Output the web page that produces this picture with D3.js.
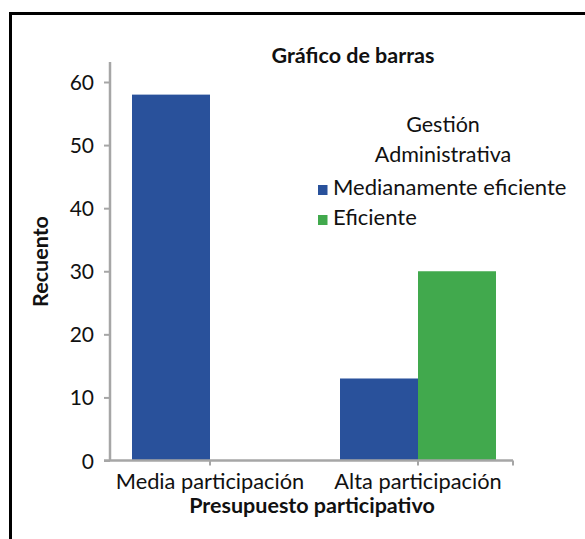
<!DOCTYPE html>
<html>
<head>
<meta charset="utf-8">
<script src="https://cdn.jsdelivr.net/npm/d3@7"></script>
<style>
  body { margin: 0; background: #fff; }
  text { font-family: Lato, "Open Sans", sans-serif; fill: #111; }
</style>
</head>
<body>
<div id="chart"></div>
<script>
// data
const categories = ["Media participación", "Alta participación"];
const seriesNames = ["Medianamente eficiente", "Eficiente"];
const medianamenteEficiente = [58, 13];
const eficiente = [null, 30];
const yTicks = [0, 10, 20, 30, 40, 50, 60];
const colors = ["#29519b", "#41a94d"];

const width = 585, height = 539;

const svg = d3.select("#chart")
  .append("svg")
  .attr("width", width)
  .attr("height", height);

// outer frame, runs off the right and bottom edges
svg.append("rect")
  .attr("x", 10.5).attr("y", 13.5)
  .attr("width", 600).attr("height", 560)
  .attr("fill", "none")
  .attr("stroke", "#000")
  .attr("stroke-width", 3);

const x0 = d3.scaleBand().domain(categories).range([106, 522]).paddingInner(0.25).paddingOuter(0.125);
const x1 = d3.scaleBand().domain(seriesNames).range([0, x0.bandwidth()]);
const y = d3.scaleLinear().domain([0, 60]).range([460.5, 82]);

const rows = [];
categories.forEach((c, i) => {
  [medianamenteEficiente, eficiente].forEach((s, j) => {
    if (s[i] != null) rows.push({ cat: c, series: seriesNames[j], value: s[i], color: colors[j] });
  });
});

svg.selectAll("rect.bar")
  .data(rows)
  .enter()
  .append("rect")
  .attr("class", "bar")
  .attr("x", d => x0(d.cat) + x1(d.series))
  .attr("y", d => y(d.value))
  .attr("width", x1.bandwidth())
  .attr("height", d => y(0) - y(d.value))
  .attr("fill", d => d.color);

const axisColor = "#a6a6a6";

// y axis
const yAxis = svg.append("g")
  .attr("transform", "translate(110,0)")
  .call(d3.axisLeft(y).tickValues(yTicks).tickSize(6).tickSizeOuter(0).tickPadding(10));
yAxis.select(".domain").remove();
yAxis.append("line")
  .attr("x1", 0).attr("x2", 0)
  .attr("y1", 62).attr("y2", y(0))
  .attr("stroke", axisColor).attr("stroke-width", 2.5);
yAxis.selectAll(".tick line").attr("stroke", axisColor).attr("stroke-width", 2);
yAxis.selectAll(".tick text")
  .attr("font-size", 21)
  .attr("dy", "0.36em");

// x axis
const xAxis = svg.append("g")
  .attr("transform", `translate(0,${y(0)})`)
  .call(d3.axisBottom(x0).tickSize(5).tickSizeOuter(0).tickPadding(8)
    .tickFormat(d => d)
    .tickValues(categories));
// ticks sit at the centre of each group
xAxis.selectAll(".tick").attr("transform", d => `translate(${x0(d) + x0.bandwidth() / 2},0)`);
xAxis.select(".domain").remove();
xAxis.append("line")
  .attr("x1", 104).attr("x2", 513)
  .attr("stroke", axisColor).attr("stroke-width", 2.5);
xAxis.append("line")
  .attr("x1", 513).attr("x2", 513).attr("y1", 0).attr("y2", 5)
  .attr("stroke", axisColor).attr("stroke-width", 2);
xAxis.selectAll(".tick line").attr("stroke", axisColor).attr("stroke-width", 2);
xAxis.selectAll(".tick text").attr("font-size", 21.8);

// titles
svg.append("text")
  .attr("x", 353).attr("y", 63)
  .attr("text-anchor", "middle")
  .attr("font-size", 21.5)
  .attr("font-weight", "bold")
  .text("Gráfico de barras");

svg.append("text")
  .attr("x", 312).attr("y", 513)
  .attr("text-anchor", "middle")
  .attr("font-size", 21.5)
  .attr("font-weight", "bold")
  .text("Presupuesto participativo");

svg.append("text")
  .attr("transform", "translate(48,261.5) rotate(-90)")
  .attr("text-anchor", "middle")
  .attr("font-size", 21.5)
  .attr("font-weight", "bold")
  .text("Recuento");

// legend
const legend = svg.append("g");
legend.append("text")
  .attr("x", 443).attr("y", 132)
  .attr("text-anchor", "middle")
  .attr("font-size", 21.5)
  .text("Gestión");
legend.append("text")
  .attr("x", 443).attr("y", 162)
  .attr("text-anchor", "middle")
  .attr("font-size", 21.5)
  .text("Administrativa");

const items = legend.selectAll("g.item")
  .data(seriesNames)
  .enter()
  .append("g")
  .attr("class", "item")
  .attr("transform", (d, i) => `translate(318,${195 + i * 30})`);
items.append("rect")
  .attr("x", 0).attr("y", -10)
  .attr("width", 9.5).attr("height", 10)
  .attr("fill", (d, i) => colors[i]);
items.append("text")
  .attr("x", 15).attr("y", 0)
  .attr("font-size", 22)
  .text(d => d);
</script>
</body>
</html>
